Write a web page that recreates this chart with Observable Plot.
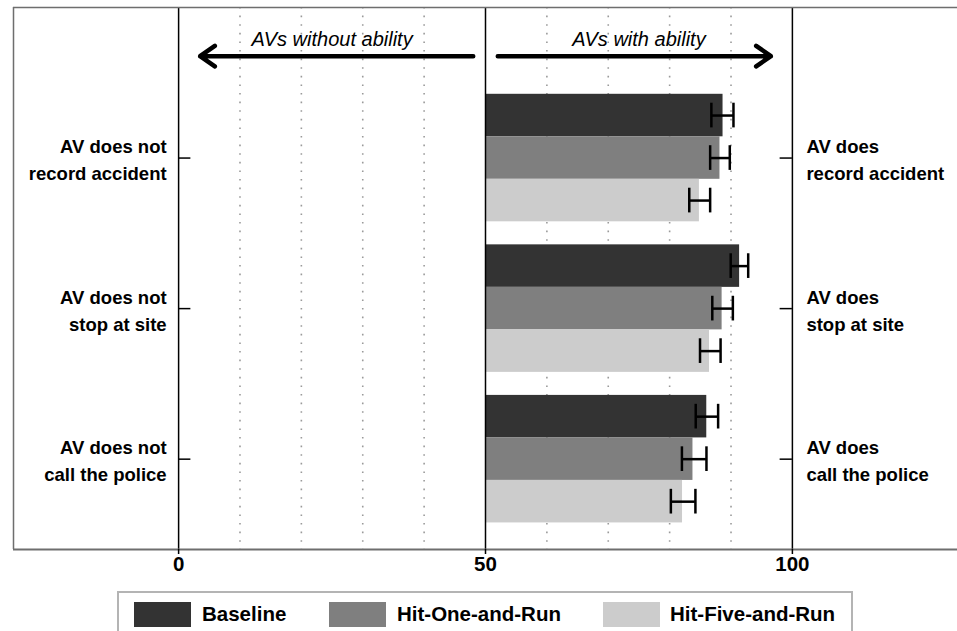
<!DOCTYPE html>
<html>
<head>
<meta charset="utf-8">
<script src="https://cdn.jsdelivr.net/npm/d3@7"></script>
<script src="https://cdn.jsdelivr.net/npm/@observablehq/plot@0.6"></script>
<style>
  html, body { margin: 0; padding: 0; background: #fff; overflow: hidden; }
  #wrap { position: relative; width: 957px; height: 631px; font-family: "Liberation Sans", Arial, sans-serif; }
  #legend { position: absolute; left: 117px; top: 591px; width: 736px; height: 60px;
            border: 2px solid #b4b4b4; border-bottom: none; box-sizing: border-box; }
  .sw { position: absolute; top: 9px; width: 57px; height: 25px; }
  .lt { position: absolute; top: 8px; font-weight: bold; font-size: 20.5px; line-height: 25px; color: #000; }
</style>
</head>
<body>
<div id="wrap"><div id="chart"></div><div id="legend"></div></div>
<script>
// ---- data ----
const groups = ["record", "stop", "call"];
const leftLabels = ["AV does not\nrecord accident", "AV does not\nstop at site", "AV does not\ncall the police"];
const rightLabels = ["AV does\nrecord accident", "AV does\nstop at site", "AV does\ncall the police"];
const conditions = ["Baseline", "Hit-One-and-Run", "Hit-Five-and-Run"];
const colors = ["#333333", "#7f7f7f", "#cccccc"];
const baselineVals = [88.7, 91.4, 86.05];
const baselineLo   = [86.8, 89.95, 84.25];
const baselineHi   = [90.4, 92.8, 87.9];
const hitOneVals = [88.2, 88.55, 83.8];
const hitOneLo   = [86.6, 86.95, 82.0];
const hitOneHi   = [89.8, 90.3, 86.0];
const hitFiveVals = [84.85, 86.5, 82.1];
const hitFiveLo   = [83.2, 84.95, 80.2];
const hitFiveHi   = [86.6, 88.3, 84.2];
const xTicks = [0, 50, 100];
const dottedGrid = [10, 20, 30, 40, 60, 70, 80, 90];
const arrowLabels = ["AVs without ability", "AVs with ability"];

// ---- layout helpers ----
const W = 957, H = 585;
const mL = 13, mR = 0, mT = 7, mB = 36;
const yDomain = [-1, 2.6];
const xDomain = [-26.9, 126.9];
const barBase = 50;
const bandHalf = 0.4235;
const subH = bandHalf * 2 / 3;
const capHalf = 0.082;

const series = [
  [baselineVals, baselineLo, baselineHi],
  [hitOneVals, hitOneLo, hitOneHi],
  [hitFiveVals, hitFiveLo, hitFiveHi]
];
const rows = [];
groups.forEach((g, gi) => {
  conditions.forEach((c, ci) => {
    const y1 = gi - bandHalf + ci * subH;
    rows.push({
      group: g, cond: c, value: series[ci][0][gi], lo: series[ci][1][gi], hi: series[ci][2][gi],
      y1, y2: y1 + subH, ym: y1 + subH / 2
    });
  });
});
const labelRows = groups.map((g, gi) => ({gi, left: leftLabels[gi], right: rightLabels[gi]}));
const arrows = [
  {x1: 48, x2: 3.5, y: -0.677, tx: 25, label: arrowLabels[0]},
  {x1: 52, x2: 96.5, y: -0.677, tx: 75, label: arrowLabels[1]}
];

const chart = Plot.plot({
  width: W, height: H,
  marginLeft: mL, marginRight: mR, marginTop: mT, marginBottom: mB,
  style: {fontFamily: "Liberation Sans, Arial, sans-serif", background: "white", overflow: "visible"},
  x: {domain: xDomain, axis: null},
  y: {domain: yDomain, axis: null, reverse: true},
  color: {domain: conditions, range: colors},
  marks: [
    Plot.ruleX(dottedGrid, {stroke: "#9a9a9a", strokeWidth: 1.6, strokeDasharray: "1.6,7"}),
    Plot.rect(rows, {x1: barBase, x2: "value", y1: "y1", y2: "y2", fill: "cond"}),
    Plot.ruleX(xTicks, {stroke: "black", strokeWidth: 1.5}),
    // frame (top, bottom, left)
    Plot.ruleY([yDomain[0]], {stroke: "#6e6e6e", strokeWidth: 1.5}),
    Plot.ruleY([yDomain[1]], {stroke: "#6e6e6e", strokeWidth: 2}),
    Plot.ruleX([xDomain[0]], {stroke: "#6e6e6e", strokeWidth: 1.5}),
    // error bars
    Plot.ruleY(rows, {y: "ym", x1: "lo", x2: "hi", stroke: "black", strokeWidth: 2.5}),
    Plot.ruleX(rows, {x: "lo", y1: d => d.ym - capHalf, y2: d => d.ym + capHalf, stroke: "black", strokeWidth: 2.5}),
    Plot.ruleX(rows, {x: "hi", y1: d => d.ym - capHalf, y2: d => d.ym + capHalf, stroke: "black", strokeWidth: 2.5}),
    // category ticks
    Plot.ruleY(labelRows, {y: "gi", x1: 0, x2: 2, stroke: "black", strokeWidth: 1.5}),
    Plot.ruleY(labelRows, {y: "gi", x1: 98, x2: 100, stroke: "black", strokeWidth: 1.5}),
    Plot.text(labelRows, {x: 0, y: "gi", text: "left", textAnchor: "end", dx: -12, fontSize: 18.5,
      fontWeight: "bold", lineHeight: 1.46, fill: "black"}),
    Plot.text(labelRows, {x: 100, y: "gi", text: "right", textAnchor: "start", dx: 14, fontSize: 18.5,
      fontWeight: "bold", lineHeight: 1.46, fill: "black"}),
    // arrows
    Plot.arrow(arrows, {x1: "x1", x2: "x2", y1: "y", y2: "y", stroke: "black", strokeWidth: 4.5,
      headLength: 6, headAngle: 70}),
    Plot.text(arrows, {x: "tx", y: -0.7875, text: "label", fontSize: 20, fontStyle: "italic", fill: "black"}),
    Plot.axisX(xTicks, {anchor: "bottom", tickSize: 5, tickPadding: 2, fontSize: 20.5, fontWeight: "bold",
      stroke: "black", strokeWidth: 1.5, fill: "black"})
  ]
});
document.getElementById("chart").appendChild(chart);

// legend (HTML below the SVG)
const legend = document.getElementById("legend");
const swLeft = [15, 210, 484];
const txLeft = [83, 278, 551];
conditions.forEach((c, i) => {
  const s = document.createElement("div");
  s.className = "sw"; s.style.left = swLeft[i] + "px"; s.style.background = colors[i];
  legend.appendChild(s);
  const t = document.createElement("div");
  t.className = "lt"; t.style.left = txLeft[i] + "px"; t.textContent = c;
  legend.appendChild(t);
});
</script>
</body>
</html>
